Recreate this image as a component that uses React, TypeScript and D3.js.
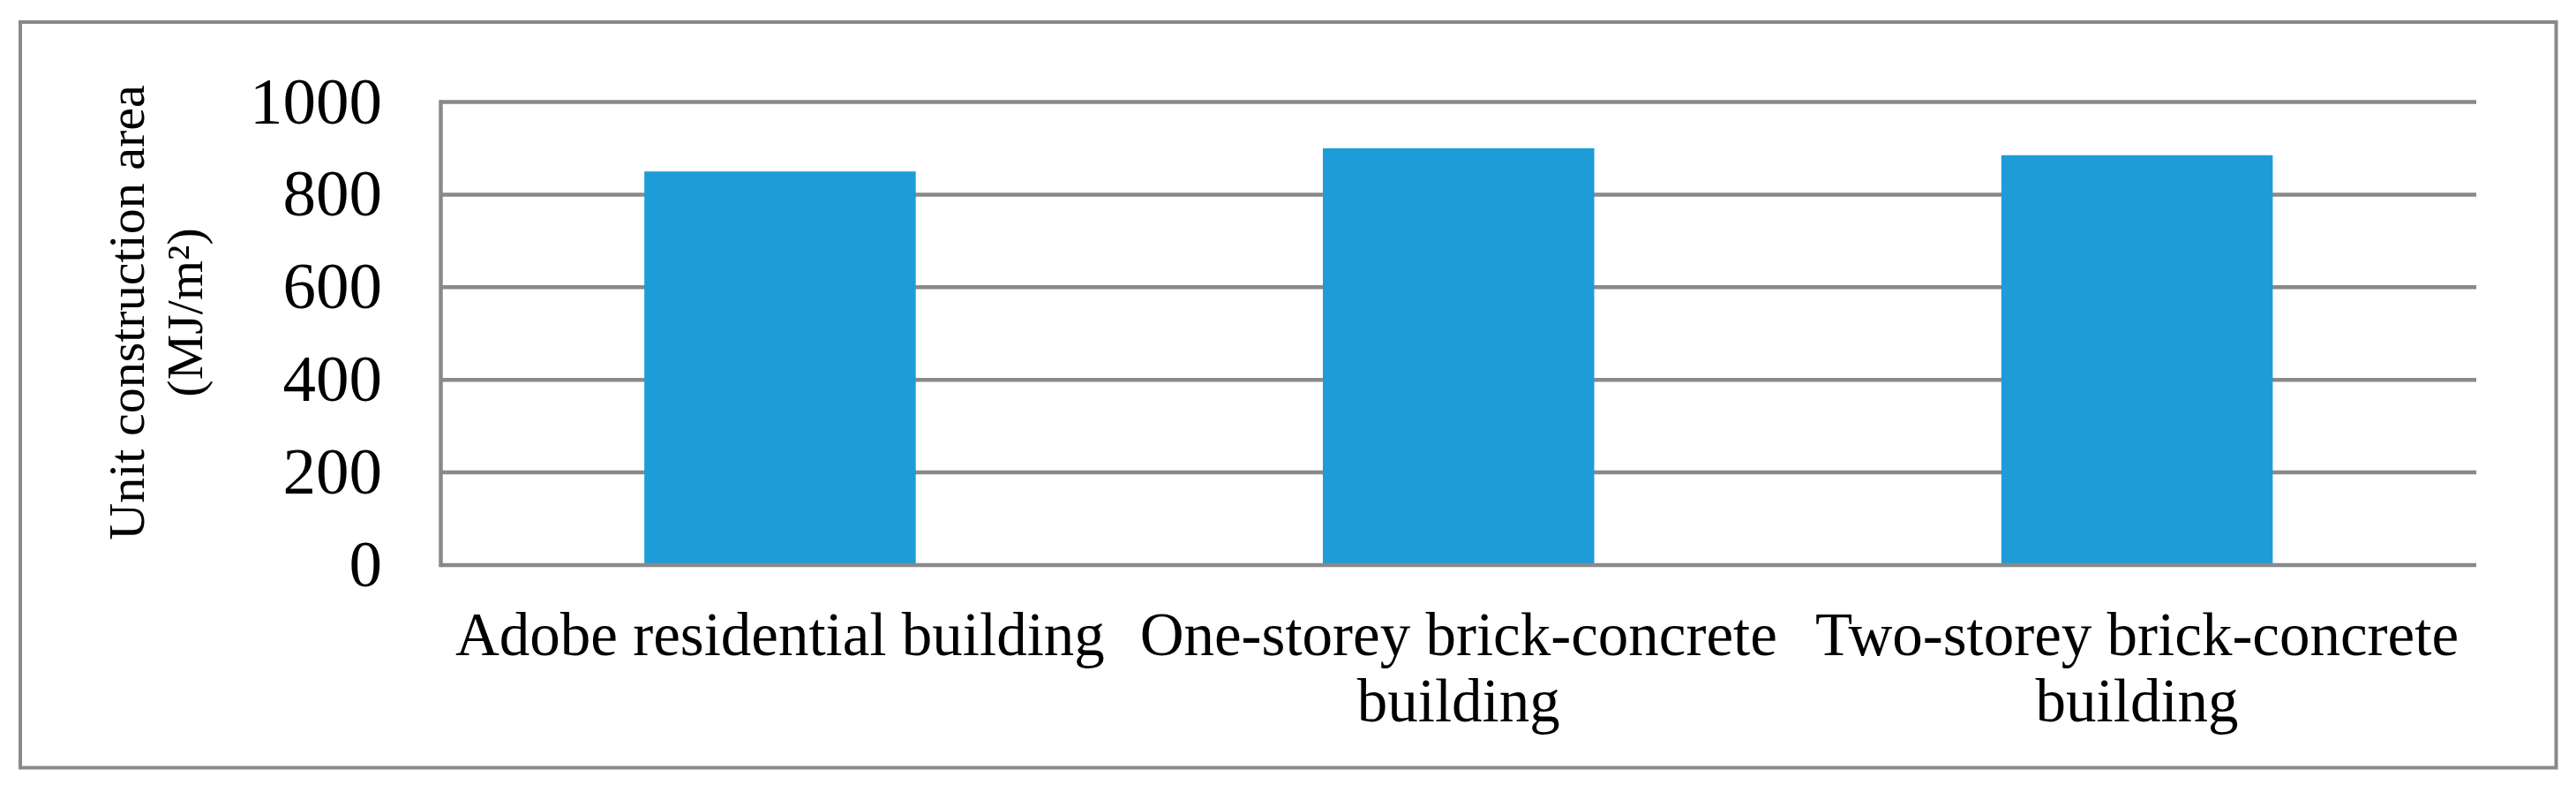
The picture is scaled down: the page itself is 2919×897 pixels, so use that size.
import { useEffect, useRef } from "react";
import * as d3 from "d3";

const categories = [
  "Adobe residential building",
  "One-storey brick-concrete building",
  "Two-storey brick-concrete building",
];
const values = [850, 900, 885];
const yTicks = [0, 200, 400, 600, 800, 1000];
const yTitle = ["Unit construction area", "(MJ/m²)"];

export default function App() {
  const ref = useRef<SVGSVGElement>(null);

  useEffect(() => {
    if (!ref.current) return;
    const w = 2919,
      h = 897,
      margin = { top: 115.5, right: w - 2806, bottom: h - 640, left: 499.5 };
    const grey = "#898989";
    const font = "'Times New Roman', 'Liberation Serif', serif";

    const svg = d3.select(ref.current);
    svg.selectAll("*").remove();
    svg.attr("width", w).attr("height", h).attr("font-family", font);

    svg.append("rect").attr("width", w).attr("height", h).attr("fill", "#fff");
    // outer frame
    svg
      .append("rect")
      .attr("x", 23)
      .attr("y", 25)
      .attr("width", 2873.5)
      .attr("height", 844.5)
      .attr("fill", "none")
      .attr("stroke", grey)
      .attr("stroke-width", 4);

    const x = d3
      .scaleBand<string>()
      .domain(categories)
      .range([margin.left, w - margin.right])
      .paddingInner(0.6)
      .paddingOuter(0.3);
    const y = d3.scaleLinear().domain([0, 1000]).range([h - margin.bottom, margin.top]);

    // horizontal gridlines
    svg
      .append("g")
      .selectAll("line")
      .data(yTicks.filter((d) => d > 0))
      .join("line")
      .attr("x1", margin.left)
      .attr("x2", w - margin.right)
      .attr("y1", (d) => y(d))
      .attr("y2", (d) => y(d))
      .attr("stroke", grey)
      .attr("stroke-width", 4.5);

    // bars
    svg
      .append("g")
      .selectAll("rect")
      .data(values)
      .join("rect")
      .attr("x", (d, i) => x(categories[i])!)
      .attr("width", x.bandwidth())
      .attr("y", (d) => y(d))
      .attr("height", (d) => y(0) - y(d))
      .attr("fill", "#1e9cd8");

    // axis lines
    svg
      .append("line")
      .attr("x1", margin.left)
      .attr("x2", w - margin.right)
      .attr("y1", y(0))
      .attr("y2", y(0))
      .attr("stroke", grey)
      .attr("stroke-width", 4.5);
    svg
      .append("line")
      .attr("x1", margin.left)
      .attr("x2", margin.left)
      .attr("y1", y(1000) - 2.25)
      .attr("y2", y(0) + 2.25)
      .attr("stroke", grey)
      .attr("stroke-width", 4.5);

    // y tick labels
    svg
      .append("g")
      .selectAll("text")
      .data(yTicks)
      .join("text")
      .attr("x", 433)
      .attr("y", (d) => y(d) + 24)
      .attr("text-anchor", "end")
      .attr("font-size", 75)
      .attr("fill", "#000")
      .text((d) => d);

    // category labels, wrapped to the band step
    const step = x.step();
    const catG = svg.append("g").attr("font-size", 69).attr("fill", "#000").attr("text-anchor", "middle");
    categories.forEach((c) => {
      const cx = x(c)! + x.bandwidth() / 2;
      const t = catG.append("text").attr("x", cx).attr("y", 741.5);
      let line: string[] = [];
      let ts = t.append("tspan").attr("x", cx).attr("dy", 0);
      c.split(" ").forEach((wd) => {
        line.push(wd);
        ts.text(line.join(" "));
        const node = ts.node() as SVGTextContentElement;
        if (node.getComputedTextLength() > step - 20 && line.length > 1) {
          line.pop();
          ts.text(line.join(" "));
          line = [wd];
          ts = t.append("tspan").attr("x", cx).attr("dy", 75.5).text(wd);
        }
      });
    });

    // y title
    const tg = svg.append("g").attr("transform", "translate(163,354) rotate(-90)");
    tg.selectAll("text")
      .data(yTitle)
      .join("text")
      .attr("x", 0)
      .attr("y", (d, i) => i * 66)
      .attr("text-anchor", "middle")
      .attr("font-size", 58)
      .attr("fill", "#000")
      .text((d) => d);
  }, []);

  return <svg ref={ref} style={{ position: "absolute", left: 0, top: 0 }} />;
}
